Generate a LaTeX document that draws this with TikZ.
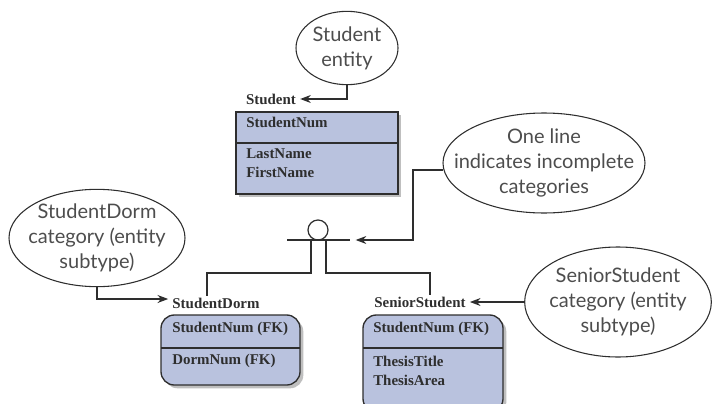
\documentclass[tikz,border=0pt]{standalone}
\usepackage{fontspec}
\setmainfont{Liberation Serif}
\newfontfamily\notefont{Lato}
\usetikzlibrary{arrows.meta,shapes.geometric,shadows}

\definecolor{boxfill}{HTML}{B9C2DE}
\definecolor{ink}{HTML}{2E2E2E}

\tikzset{
  note/.style={ellipse, draw=ink, line width=0.8pt, inner sep=0pt},
  notetext/.style={font=\notefont\fontsize{15}{18.75}\selectfont, text=ink!85, align=center, inner sep=0pt},
  entlabel/.style={font=\bfseries\fontsize{11.2}{14}\selectfont, text=ink, inner sep=1pt},
  attr/.style={font=\bfseries\fontsize{11.2}{14.25}\selectfont, text=ink, anchor=west, align=left, inner sep=0pt},
  entbox/.style={draw=ink, line width=1pt, fill=boxfill,
    drop shadow={shadow xshift=2.5pt, shadow yshift=-2.5pt, fill=black, opacity=0.25}},
  conn/.style={draw=ink, line width=0.9pt, shorten >=2pt, -{Stealth[length=8pt,width=6pt]}},
  link/.style={draw=ink, line width=0.9pt}
}

\begin{document}
\begin{tikzpicture}[x=0.75pt,y=-0.75pt]
  \useasboundingbox (0,0) rectangle (713,403);

  % supertype
  \draw[entbox] (236,112) rectangle (398,194);
  \draw[link] (236,143) -- (398,143);
  \node[entlabel] (stulbl) at (271,99) {Student};
  \node[attr] (stunum) at (246,122) {StudentNum};
  \node[attr] (stuname) at (246,163.5) {LastName\\FirstName};

  % subtypes
  \draw[entbox, rounded corners=10pt] (161,315) rectangle (300,385);
  \draw[link] (161,348) -- (300,348);
  \node[entlabel] (dormlbl) at (216,303) {StudentDorm};
  \node[attr] (dormkey) at (172,329) {StudentNum (FK)};
  \node[attr] (dormnum) at (172,361) {DormNum (FK)};

  \draw[entbox, rounded corners=10pt] (363,315) rectangle (503,412);
  \draw[link] (363,348) -- (503,348);
  \node[entlabel] (senlbl) at (420,302) {SeniorStudent};
  \node[attr] (senkey) at (373,329) {StudentNum (FK)};
  \node[attr] (senthesis) at (373,371) {ThesisTitle\\ThesisArea};

  % category symbol
  \node[draw=ink, circle, line width=0.9pt, minimum size=15pt, inner sep=0pt] (cat) at (318,230) {};
  \coordinate (barL) at (287,240);
  \coordinate (barR) at (350,240);
  \coordinate (legL) at (311,240);
  \coordinate (legR) at (326,240);
  \coordinate (dormjoin) at (207,273);
  \coordinate (senjoin) at (430,273);
  \draw[link] (barL) -- (barR);
  \draw[link] (legL) |- (dormjoin) -- (dormjoin |- dormlbl.north);
  \draw[link] (legR) |- (senjoin) -- (senjoin |- senlbl.north);

  % callouts
  \node[note, minimum width=76.5pt, minimum height=55pt] (stuell) at (347,48) {};
  \node[notetext] (stutxt) at (stuell) {Student\\entity};
  \node[note, minimum width=132pt, minimum height=73pt] (dormell) at (97,238) {};
  \node[notetext] (dormtxt) at (dormell) {StudentDorm\\category (entity\\subtype)};
  \node[note, minimum width=151.5pt, minimum height=75pt] (lineell) at (544,163) {};
  \node[notetext] (linetxt) at (lineell) {One line\\indicates incomplete\\categories};
  \node[note, minimum width=140pt, minimum height=82.5pt] (senell) at (618,302) {};
  \node[notetext] (sentxt) at (senell) {SeniorStudent\\category (entity\\subtype)};

  \coordinate (bend) at (413,240);
  \coordinate (bartip) at (353,240);
  \draw[conn] (stuell.south) |- (stulbl.east);
  \draw[conn] (dormell.south) |- ([yshift=3pt]dormlbl.west);
  \draw[conn] (senell.west) -- (senlbl.east);
  \draw[conn] (lineell.184) -| (bend) -- (bartip);
\end{tikzpicture}
\end{document}
